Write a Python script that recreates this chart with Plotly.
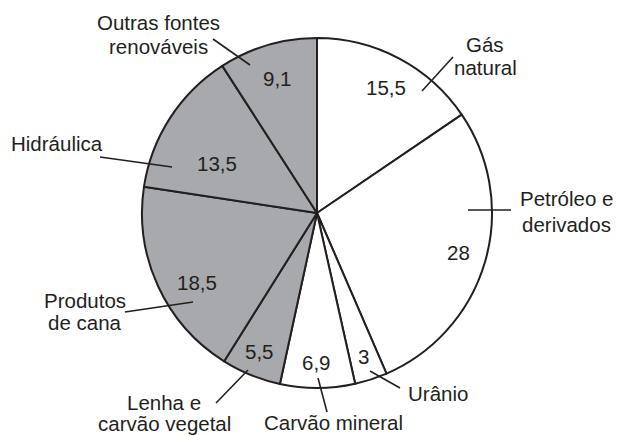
import math
import plotly.graph_objects as go

# ---- data ----
labels = ["Gás natural", "Petróleo e derivados", "Urânio", "Carvão mineral",
          "Lenha e carvão vegetal", "Produtos de cana", "Hidráulica",
          "Outras fontes renováveis"]
values = [15.5, 28, 3, 6.9, 5.5, 18.5, 13.5, 9.1]
renewable = [False, False, False, False, True, True, True, True]
label_lines = [["Gás", "natural"], ["Petróleo e", "derivados"], ["Urânio"],
               ["Carvão mineral"], ["Lenha e", "carvão vegetal"],
               ["Produtos", "de cana"], ["Hidráulica"],
               ["Outras fontes", "renováveis"]]

# ---- layout / style ----
W, H = 617, 435
CX, CY, R = 317, 213, 175          # pie centre and radius in pixels
GRAY = "#a7a9ac"
INK = "#231f20"
FONT = "Liberation Sans, Arial, sans-serif"
FS = 20.5

# radius fraction for in-slice value labels and angular nudge (deg)
value_r = [0.82, 0.84, 0.86, 0.855, 0.86, 0.79, 0.64, 0.80]
value_da = [1, -0.5, 0, 0.5, 0.5, -5.5, -6.5, 0]

# external label placement: centre x and per-line centre y (pixels)
ext_x = [485, 566, 438, 333, 164, 85, 57, 158]
ext_y = [[45, 68], [199, 224], [393], [422], [402, 423], [300, 322], [143], [23, 47]]
leader = [((422, 91), (453, 57)), ((468, 210), (511, 210)),
          ((370, 371), (400, 388)), ((318, 378), (327, 412)),
          ((248, 370), (216, 403)), ((193, 302), (125, 312)),
          ((172, 167), (100, 157)), ((250, 65), (213, 39))]


def px(x):
    return x / W


def py(y):
    return 1 - y / H


fig = go.Figure(go.Pie(
    labels=labels, values=values, sort=False, direction="clockwise", rotation=0,
    marker=dict(colors=[GRAY if r else "white" for r in renewable],
                line=dict(color=INK, width=2)),
    textinfo="none", hoverinfo="label+value", showlegend=False,
    domain=dict(x=[px(CX - R), px(CX + R)], y=[py(CY + R), py(CY - R)]),
))

annotations = []
total = sum(values)
start = 0.0
for i, v in enumerate(values):
    span = v / total * 360
    mid = start + span / 2 + value_da[i]
    start += span
    rr = value_r[i] * R
    x = CX + rr * math.sin(math.radians(mid))
    y = CY - rr * math.cos(math.radians(mid))
    annotations.append(dict(
        x=px(x), y=py(y), xref="paper", yref="paper", showarrow=False,
        text=f"{v:g}".replace(".", ","), font=dict(family=FONT, size=FS, color=INK),
        xanchor="center", yanchor="middle"))
    for line_text, ly in zip(label_lines[i], ext_y[i]):
        annotations.append(dict(
            x=px(ext_x[i]), y=py(ly), xref="paper", yref="paper", showarrow=False,
            text=line_text, font=dict(family=FONT, size=FS, color=INK),
            xanchor="center", yanchor="middle", align="center"))

shapes = []
for (x0, y0), (x1, y1) in leader:
    shapes.append(dict(type="line", xref="paper", yref="paper",
                       x0=px(x0), y0=py(y0), x1=px(x1), y1=py(y1),
                       line=dict(color=INK, width=1.6)))

fig.update_layout(
    width=W, height=H, margin=dict(l=0, r=0, t=0, b=0),
    paper_bgcolor="white", plot_bgcolor="white",
    annotations=annotations, shapes=shapes,
)
fig.write_html(
    "out.html",
    config={"displayModeBar": False},
    post_script="document.body.style.margin='0';document.body.style.overflow='hidden';",
)
